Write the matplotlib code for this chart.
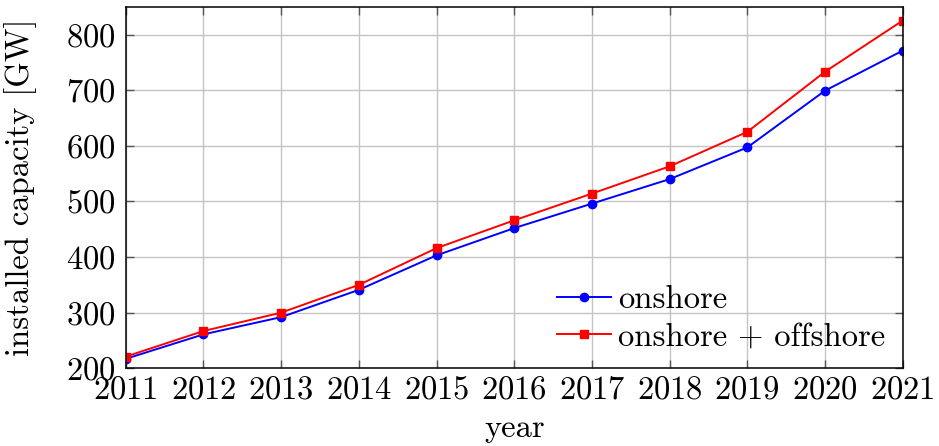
import matplotlib
matplotlib.use("Agg")
import matplotlib.pyplot as plt

# Data
years = [2011, 2012, 2013, 2014, 2015, 2016, 2017, 2018, 2019, 2020, 2021]
onshore = [217, 261, 292, 341, 403, 452, 496, 540, 597, 699, 771]
total = [221, 267, 300, 350, 416, 466, 514, 563, 625, 733, 825]
yticks = [200, 300, 400, 500, 600, 700, 800]

plt.rcParams['font.family'] = ['cmr10', 'DejaVu Serif']
plt.rcParams['axes.formatter.use_mathtext'] = True
plt.rcParams['font.size'] = 23.5

fig = plt.figure(figsize=(9.39, 4.46), dpi=100)
ax = fig.add_axes([0.1339, 0.1742, 0.8274, 0.8108])

ax.plot(years, onshore, color='#0000ff', lw=1.4, marker='o', ms=6, label='onshore')
ax.plot(years, total, color='#ff0000', lw=1.4, marker='s', ms=5.5, label='onshore + offshore')

ax.set_xlim(2011, 2021)
ax.set_ylim(200, 850)
ax.set_xticks(years)
ax.set_yticks(yticks)

ax.grid(True, color='#c4c4c4', lw=1)
ax.set_axisbelow(True)
ax.tick_params(direction='in', length=6, width=1, color='#555555',
               top=True, right=True)
ax.tick_params(axis='x', pad=5)
ax.tick_params(axis='y', pad=7)
for s in ax.spines.values():
    s.set_linewidth(1.1)

ax.set_xlabel('year', labelpad=7)
ax.set_ylabel('installed capacity [GW]')
ax.yaxis.set_label_coords(-0.114, 0.5)

ax.legend(loc='lower right', bbox_to_anchor=(1.0, 0.0), frameon=False,
          handlelength=1.65, handletextpad=0.23, labelspacing=0.24,
          borderaxespad=0.12)

fig.savefig('out.png', dpi=100)
